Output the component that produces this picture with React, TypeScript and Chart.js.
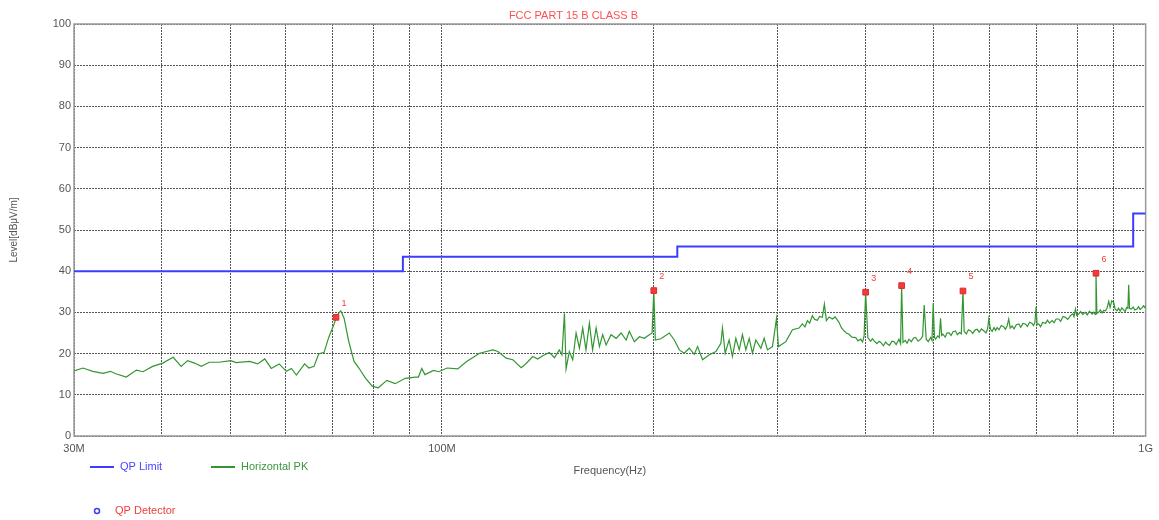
import { useEffect, useRef } from "react";
import { Chart, registerables } from "chart.js";

Chart.register(...registerables);
Chart.defaults.font.family = "'Liberation Sans', Arial, sans-serif";

// ---- axes / ticks ----
const gridFreqs = [30, 40, 50, 60, 70, 80, 90, 100, 200, 300, 400, 500, 600, 700, 800, 900, 1000];
const tickLabelFreqs = [30, 100, 1000];
const tickLabels = ["30M", "100M", "1G"];

// ---- QP limit (MHz, dBuV/m) ----
const limitFreq = [30, 88, 216, 960, 1000];
const limitLevel = [40, 43.5, 46, 54, 54];

// ---- QP detector points ----
const qpFreq = [70.7, 200, 400, 450, 550, 850];
const qpLevel = [28.8, 35.3, 34.9, 36.5, 35.2, 39.5];
const qpLabels = ["1", "2", "3", "4", "5", "6"];

// ---- Horizontal PK trace (MHz, dBuV/m) ----
const pkTrace: [number, number][] = [
  [30.0, 15.8], [30.9, 16.5], [31.9, 15.7], [33.0, 15.2], [33.8, 15.7], [34.4, 15.1], [35.6, 14.3],
  [36.8, 16.0], [37.6, 15.6], [38.8, 16.9], [40.1, 17.7], [41.5, 19.1], [42.6, 16.9], [43.5, 18.3],
  [44.5, 17.7], [45.5, 16.9], [46.7, 17.9], [48.2, 17.9], [50.1, 18.3], [51.0, 17.8], [53.3, 18.1],
  [54.7, 17.5], [56.0, 18.7], [57.2, 16.4], [58.7, 17.5], [60.1, 15.7], [61.1, 16.4], [62.1, 14.8],
  [63.8, 17.5], [64.7, 16.5], [65.8, 16.9], [66.8, 19.9], [68.0, 20.3], [69.0, 23.8], [70.2, 27.0],
  [71.0, 29.4], [71.8, 30.4], [72.6, 28.6], [73.7, 23.0], [75.0, 18.1], [76.2, 16.5], [77.9, 14.0],
  [79.6, 12.1], [81.2, 11.7], [83.5, 13.5], [85.8, 12.7], [88.7, 14.0], [91.6, 14.3], [92.6, 14.3],
  [93.6, 16.4], [94.6, 14.9], [97.3, 15.9], [99.0, 15.6], [101.7, 16.5],
  [105.3, 16.3], [108.3, 18.0], [113.1, 20.1], [118.1, 20.9], [120.1, 20.5], [123.4, 18.9],
  [126.1, 18.5], [129.6, 16.6], [131.7, 17.6], [134.6, 19.3], [136.8, 18.7], [139.1, 19.5],
  [142.1, 20.3], [144.5, 19.0], [146.8, 20.9], [148.1, 19.7], [149.3, 29.8], [150.1, 16.3],
  [151.7, 20.5], [153.4, 18.5], [155.1, 25.0], [156.8, 21.3], [158.5, 26.2], [160.2, 20.9],
  [162.0, 27.4], [163.7, 20.9], [165.6, 26.2], [167.4, 21.7], [169.2, 24.6], [171.1, 22.1],
  [173.9, 24.6], [176.8, 23.7], [179.7, 25.0], [182.7, 23.3], [184.6, 25.4], [187.7, 22.9],
  [190.8, 24.1], [193.9, 23.7], [197.1, 24.6], [198.9, 25.0], [200.0, 35.3], [201.0, 23.3],
  [204.7, 23.6], [210.4, 25.0], [213.9, 23.3], [217.4, 20.9], [221.0, 20.1], [224.6, 21.3],
  [228.3, 19.8], [230.8, 21.7], [234.6, 18.5], [239.8, 19.7], [245.1, 20.5], [249.1, 22.5],
  [250.4, 26.2], [252.6, 20.1], [255.9, 23.3], [258.7, 19.3], [261.6, 23.7], [264.5, 20.9],
  [267.3, 24.6], [270.3, 20.9], [273.3, 23.7], [276.2, 20.1], [279.3, 23.3], [283.9, 21.3],
  [287.0, 23.7], [290.1, 20.9], [294.9, 21.7], [298.8, 28.5], [300.7, 21.7], [308.1, 22.9],
  [314.8, 25.8], [321.7, 26.2],
  [325.2, 27.2], [328.0, 26.5], [330.6, 28.0], [333.0, 27.4], [336.0, 29.2], [338.5, 28.3],
  [341.6, 28.1], [344.0, 29.0], [347.2, 28.8], [349.5, 32.0], [351.8, 28.0], [355.0, 28.9],
  [358.8, 28.4], [362.0, 28.9], [366.6, 27.6], [369.5, 26.3], [372.7, 25.5], [375.5, 25.0],
  [378.8, 24.7], [382.5, 24.0], [387.2, 23.9], [390.0, 23.1], [393.6, 23.5], [396.0, 22.8],
  [398.0, 24.3], [400.0, 34.9], [402.9, 23.9], [406.5, 23.0], [409.0, 23.6], [411.3, 23.1],
  [415.0, 22.4], [418.0, 23.0], [420.4, 22.7], [424.0, 21.9], [427.0, 22.8], [429.5, 22.3],
  [432.5, 22.0], [436.0, 23.0], [438.9, 22.9], [442.0, 22.2], [446.1, 23.5], [448.5, 22.4],
  [450.0, 36.5], [452.0, 22.7], [455.5, 23.2], [458.0, 22.5], [461.0, 23.5], [464.5, 22.9],
  [468.0, 23.8], [471.1, 23.9], [475.0, 23.0], [478.9, 23.5], [482.0, 24.2], [484.5, 31.8],
  [487.7, 23.5], [491.0, 22.9], [494.8, 23.9], [497.0, 23.2], [499.0, 32.2], [501.0, 24.0],
  [502.9, 23.5], [506.5, 24.3], [509.0, 23.9], [511.1, 28.6], [513.0, 24.4], [515.0, 24.7],
  [519.0, 24.0], [522.0, 25.0], [525.2, 25.1], [529.0, 24.4], [532.5, 25.3], [536.8, 25.5],
  [540.0, 24.6], [543.8, 25.1], [547.0, 24.8], [550.0, 35.2], [552.2, 25.4], [556.0, 24.8],
  [560.0, 25.8], [564.1, 25.5], [568.0, 24.9], [572.0, 25.7], [576.3, 25.9], [580.0, 25.2],
  [584.5, 26.0], [589.0, 25.5], [593.0, 25.0], [596.0, 25.9], [598.6, 28.4], [601.9, 25.9],
  [605.0, 25.4], [609.0, 26.3], [612.0, 25.6], [615.0, 26.3], [619.0, 25.8], [623.5, 26.8],
  [628.6, 26.5], [632.0, 25.9], [635.5, 26.7], [638.9, 28.4], [642.0, 26.2], [645.9, 26.7],
  [650.0, 26.0], [655.0, 27.0], [660.3, 27.2], [664.5, 26.4], [669.0, 27.3], [674.8, 27.2],
  [679.0, 26.6], [684.0, 27.6], [689.6, 27.3], [693.0, 26.8], [696.0, 27.5], [698.7, 31.4],
  [701.0, 27.0], [704.9, 27.2], [709.0, 26.5], [714.0, 27.6], [720.6, 27.3], [725.0, 28.1],
  [730.0, 27.4], [736.3, 28.0], [741.0, 27.5], [746.0, 28.4], [752.5, 28.4], [757.0, 27.8],
  [763.0, 29.0], [769.1, 28.8], [775.0, 28.3], [781.8, 29.2], [788.0, 29.7], [791.0, 29.0],
  [794.7, 30.8], [798.0, 29.3], [803.4, 29.6], [808.0, 30.2], [814.0, 29.5], [821.1, 30.0],
  [826.0, 29.4], [832.0, 30.3], [839.1, 29.6], [844.0, 30.1], [847.5, 29.5], [850.0, 39.5],
  [852.5, 29.8], [857.5, 30.0], [862.0, 30.6], [867.0, 29.9], [871.5, 30.5], [876.6, 30.4],
  [881.0, 31.0], [886.2, 32.7], [890.0, 31.2], [895.0, 32.8], [900.7, 32.4], [905.0, 30.8],
  [910.5, 30.4], [915.0, 31.0], [920.0, 30.3], [925.0, 31.1], [930.6, 30.6], [935.0, 30.2],
  [940.0, 31.2], [943.5, 31.0], [946.0, 36.7], [948.5, 31.0], [954.3, 30.8], [960.0, 31.3],
  [965.0, 30.6], [972.1, 30.8], [977.0, 31.4], [982.0, 30.7], [988.0, 31.1], [993.0, 31.6],
  [997.0, 31.2], [1000, 31.6],
];

const TITLE = "FCC PART 15 B CLASS B";
const X_TITLE = "Frequency(Hz)";
const Y_TITLE = "Level[dBμV/m]";
const LEGEND_LIMIT = "QP Limit";
const LEGEND_PK = "Horizontal PK";
const LEGEND_QP = "QP Detector";

const BLUE = "rgb(60,60,255)";
const GREEN = "rgb(50,150,50)";
const RED = "rgb(240,60,60)";

const framePlugin = {
  id: "frame",
  beforeDatasetsDraw(chart: any) {
    const { ctx, chartArea: a } = chart;
    ctx.save();
    ctx.strokeStyle = "#999";
    ctx.lineWidth = 1.5;
    ctx.setLineDash([]);
    ctx.strokeRect(a.left, a.top, a.right - a.left, a.bottom - a.top);
    ctx.restore();
  },
};

const markerLabelPlugin = {
  id: "markerLabels",
  afterDatasetsDraw(chart: any) {
    const meta = chart.getDatasetMeta(2);
    const { ctx } = chart;
    ctx.save();
    ctx.fillStyle = RED;
    ctx.font = "9px 'Liberation Sans', Arial, sans-serif";
    ctx.textAlign = "center";
    ctx.textBaseline = "middle";
    meta.data.forEach((el: any, i: number) => {
      ctx.fillText(qpLabels[i], el.x + 8, el.y - 14);
    });
    ctx.restore();
  },
};

const legendPlugin = {
  id: "customLegend",
  afterDraw(chart: any) {
    const { ctx } = chart;
    ctx.save();
    ctx.font = "11px 'Liberation Sans', Arial, sans-serif";
    ctx.textBaseline = "middle";
    ctx.textAlign = "left";
    // QP Limit
    ctx.strokeStyle = BLUE;
    ctx.lineWidth = 2;
    ctx.beginPath();
    ctx.moveTo(90, 467);
    ctx.lineTo(114, 467);
    ctx.stroke();
    ctx.fillStyle = "rgb(70,70,255)";
    ctx.fillText(LEGEND_LIMIT, 120, 467);
    // Horizontal PK
    ctx.strokeStyle = GREEN;
    ctx.beginPath();
    ctx.moveTo(211, 467);
    ctx.lineTo(235, 467);
    ctx.stroke();
    ctx.fillStyle = "rgb(60,150,60)";
    ctx.fillText(LEGEND_PK, 241, 467);
    // QP Detector
    ctx.strokeStyle = BLUE;
    ctx.lineWidth = 1.5;
    ctx.beginPath();
    ctx.arc(97, 511, 2.5, 0, Math.PI * 2);
    ctx.stroke();
    ctx.fillStyle = RED;
    ctx.fillText(LEGEND_QP, 115, 511);
    ctx.restore();
  },
};

export default function App() {
  const ref = useRef<HTMLCanvasElement | null>(null);

  useEffect(() => {
    if (!ref.current) return;
    const chart = new Chart(ref.current, {
      type: "line",
      data: {
        datasets: [
          {
            label: LEGEND_LIMIT,
            data: limitFreq.map((f, i) => ({ x: f, y: limitLevel[i] })),
            borderColor: BLUE,
            borderWidth: 2,
            stepped: "before",
            pointRadius: 0,
            fill: false,
            order: 1,
          },
          {
            label: LEGEND_PK,
            data: pkTrace.map(([x, y]) => ({ x, y })),
            borderColor: GREEN,
            borderWidth: 1.2,
            pointRadius: 0,
            tension: 0,
            fill: false,
            order: 2,
          },
          {
            label: LEGEND_QP,
            data: qpFreq.map((f, i) => ({ x: f, y: qpLevel[i] })),
            showLine: false,
            pointStyle: "rect",
            pointRadius: 4,
            backgroundColor: RED,
            borderColor: "rgb(225,40,40)",
            borderWidth: 1,
            order: 0,
          },
        ],
      },
      options: {
        responsive: false,
        animation: false,
        events: [],
        layout: { padding: { left: 0, right: 12, top: 0, bottom: 0 } },
        plugins: {
          legend: { display: false },
          tooltip: { enabled: false },
          title: {
            display: true,
            text: TITLE,
            color: "rgb(255,80,80)",
            font: { size: 11, weight: "normal" },
            padding: { top: 9, bottom: 1.8 },
          },
        },
        scales: {
          x: {
            type: "logarithmic",
            position: "bottom",
            min: 30,
            max: 1000,
            afterBuildTicks: (s: any) => {
              s.ticks = gridFreqs.map((v) => ({ value: v }));
            },
            afterFit: (s: any) => {
              s.height = 84;
            },
            ticks: {
              autoSkip: false,
              maxRotation: 0,
              minRotation: 0,
              padding: 6,
              color: "#555",
              font: { size: 11 },
              callback: (v: any) => {
                const i = tickLabelFreqs.indexOf(Number(v));
                return i >= 0 ? tickLabels[i] : "";
              },
            },
            grid: { color: "#555", lineWidth: 1, drawTicks: false },
            border: { display: false, dash: [2, 1] },
            title: {
              display: true,
              text: X_TITLE,
              color: "#555",
              font: { size: 11 },
              padding: { top: 0, bottom: 42 },
            },
          },
          y: {
            min: 0,
            max: 100,
            afterFit: (s: any) => {
              s.width = 74;
            },
            ticks: { stepSize: 10, padding: 3, color: "#555", font: { size: 11 } },
            grid: { color: "#555", lineWidth: 1, drawTicks: false },
            border: { display: false, dash: [2, 1] },
            title: {
              display: true,
              text: Y_TITLE,
              color: "#555",
              font: { size: 10 },
              padding: { top: 8, bottom: 0 },
            },
          },
        },
      },
      plugins: [framePlugin, markerLabelPlugin, legendPlugin],
    } as any);
    return () => chart.destroy();
  }, []);

  return (
    <div style={{ position: "absolute", left: 0, top: 0, width: 1159, height: 520, background: "#fff" }}>
      <canvas ref={ref} width={1159} height={520} />
    </div>
  );
}
